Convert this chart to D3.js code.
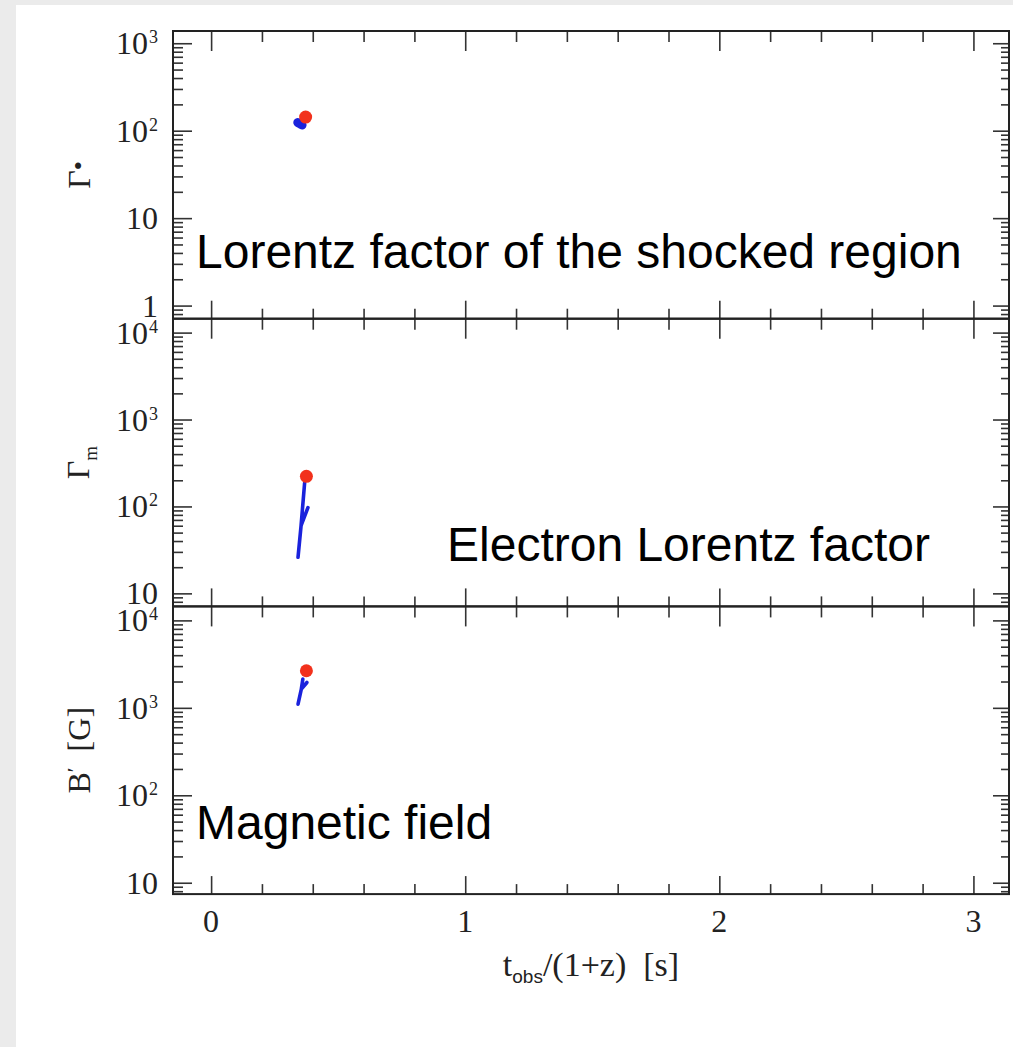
<!DOCTYPE html>
<html>
<head>
<meta charset="utf-8">
<script src="https://cdn.jsdelivr.net/npm/d3@7"></script>
<style>
  body { margin: 0; background: #ebebeb; }
  svg { display: block; }
  .serif { font-family: "Liberation Serif", "DejaVu Serif", serif; fill: #222; }
  .note { font-family: "Liberation Sans", Arial, sans-serif; fill: #000; }
</style>
</head>
<body>
<div id="chart"></div>
<script>
/*
    Chart data
*/
var timeMajorTicks = [0, 1, 2, 3];
var timeMinorTicks = [0.2, 0.4, 0.6, 0.8, 1.2, 1.4, 1.6, 1.8, 2.2, 2.4, 2.6, 2.8];

// [t_obs/(1+z), value]
var lorentzBlue = [[0.341, 124], [0.352, 119], [0.358, 116]];
var lorentzRed = [[0.372, 143]];
var electronBlue = [[0.342, 26], [0.354, 60], [0.381, 97], [0.354, 60], [0.368, 187]];
var electronRed = [[0.375, 222]];
var fieldBlue = [[0.342, 1100], [0.355, 1640], [0.377, 1950], [0.355, 1640], [0.361, 2130]];
var fieldRed = [[0.375, 2655]];

var lorentzTicks = [1, 10, 100, 1000];
var electronTicks = [10, 100, 1000, 10000];
var fieldTicks = [10, 100, 1000, 10000];

var panelNotes = ["Lorentz factor of the shocked region", "Electron Lorentz factor", "Magnetic field"];

/*
    Layout
*/
var width = 1013, height = 1047;
var left = 173, right = 1009;
var panelTop = 31, panelHeight = 287.7;

var svg = d3.select("#chart").append("svg")
    .attr("width", width)
    .attr("height", height);

// white card on grey page
svg.append("rect")
    .attr("x", 16).attr("y", 5)
    .attr("width", width - 16).attr("height", height - 5)
    .attr("fill", "#fff");

var x = d3.scaleLinear().domain([-0.15, 3.14]).range([left, right]);

var panels = [
    { blue: lorentzBlue, red: lorentzRed, ticks: lorentzTicks, lo: -0.15, hi: 3.14,
      note: panelNotes[0], noteX: 196, noteY: 268 },
    { blue: electronBlue, red: electronRed, ticks: electronTicks, lo: 0.85, hi: 4.16,
      note: panelNotes[1], noteX: 447, noteY: 561 },
    { blue: fieldBlue, red: fieldRed, ticks: fieldTicks, lo: 0.87, hi: 4.16,
      note: panelNotes[2], noteX: 196, noteY: 839 }
];

function minorLogTicks(lo, hi) {
    var out = [];
    for (var n = Math.floor(lo); n <= Math.ceil(hi); n++) {
        for (var k = 2; k <= 9; k++) {
            var v = k * Math.pow(10, n);
            var l = Math.log10(v);
            if (l > lo && l < hi) out.push(v);
        }
    }
    return out;
}

function styleAxis(g) {
    g.select(".domain").remove();
    g.selectAll(".tick line").attr("stroke", "#333").attr("stroke-width", 1.6);
    g.selectAll(".tick text").remove();
}

panels.forEach(function (p, i) {
    var top = panelTop + i * panelHeight;
    var bottom = top + panelHeight;
    var y = d3.scaleLog()
        .domain([Math.pow(10, p.lo), Math.pow(10, p.hi)])
        .range([bottom, top]);

    var g = svg.append("g");
    var minor = minorLogTicks(p.lo, p.hi);

    // left / right ticks, pointing inward
    g.append("g").attr("transform", "translate(" + left + ",0)")
        .call(d3.axisLeft(y).tickValues(p.ticks).tickSize(-19)).call(styleAxis);
    g.append("g").attr("transform", "translate(" + left + ",0)")
        .call(d3.axisLeft(y).tickValues(minor).tickSize(-10)).call(styleAxis);
    g.append("g").attr("transform", "translate(" + right + ",0)")
        .call(d3.axisRight(y).tickValues(p.ticks).tickSize(-16)).call(styleAxis);
    g.append("g").attr("transform", "translate(" + right + ",0)")
        .call(d3.axisRight(y).tickValues(minor).tickSize(-8)).call(styleAxis);

    // top / bottom ticks
    g.append("g").attr("transform", "translate(0," + top + ")")
        .call(d3.axisTop(x).tickValues(timeMajorTicks).tickSize(-20)).call(styleAxis);
    g.append("g").attr("transform", "translate(0," + top + ")")
        .call(d3.axisTop(x).tickValues(timeMinorTicks).tickSize(-11)).call(styleAxis);
    g.append("g").attr("transform", "translate(0," + bottom + ")")
        .call(d3.axisBottom(x).tickValues(timeMajorTicks).tickSize(-18)).call(styleAxis);
    g.append("g").attr("transform", "translate(0," + bottom + ")")
        .call(d3.axisBottom(x).tickValues(timeMinorTicks).tickSize(-10)).call(styleAxis);

    // y tick labels: 1, 10, 10^n
    p.ticks.forEach(function (v) {
        var e = Math.round(Math.log10(v));
        var t = g.append("text").attr("class", "serif")
            .attr("x", 158).attr("y", y(v) + 11)
            .attr("text-anchor", "end")
            .style("font-size", "32px");
        if (e <= 1) {
            t.text(String(v));
        } else {
            t.append("tspan").text("10");
            t.append("tspan").attr("dx", 1).attr("dy", -11).style("font-size", "18px").text(e);
        }
    });

    // frame
    g.append("rect")
        .attr("x", left).attr("y", top)
        .attr("width", right - left).attr("height", panelHeight)
        .attr("fill", "none").attr("stroke", "#222").attr("stroke-width", 2);

    // data
    var line = d3.line()
        .x(function (d) { return x(d[0]); })
        .y(function (d) { return y(d[1]); });

    g.append("path")
        .datum(p.blue)
        .attr("d", line)
        .attr("fill", "none")
        .attr("stroke", "#1a22dc")
        .attr("stroke-width", i === 0 ? 9 : 3.6)
        .attr("stroke-linecap", "round")
        .attr("stroke-linejoin", "round");

    g.selectAll(".red").data(p.red).enter().append("circle")
        .attr("cx", function (d) { return x(d[0]); })
        .attr("cy", function (d) { return y(d[1]); })
        .attr("r", 6.5)
        .attr("fill", "#f2311c");

    // annotation
    g.append("text").attr("class", "note")
        .attr("x", p.noteX).attr("y", p.noteY)
        .style("font-size", "48px")
        .text(p.note);
});

// x tick labels
var bottomEdge = panelTop + 3 * panelHeight;
timeMajorTicks.forEach(function (v) {
    svg.append("text").attr("class", "serif")
        .attr("x", x(v)).attr("y", bottomEdge + 38)
        .attr("text-anchor", "middle")
        .style("font-size", "32px")
        .text(v);
});

// x title
var xt = svg.append("text").attr("class", "serif")
    .attr("x", (left + right) / 2).attr("y", 976)
    .attr("text-anchor", "middle")
    .style("font-size", "34px");
xt.append("tspan").text("t");
xt.append("tspan").attr("dy", 7).style("font-family", "Liberation Sans, Arial, sans-serif")
    .style("font-size", "19px").text("obs");
xt.append("tspan").attr("dy", -7).text("/(1+z)\u00a0\u00a0[s]");

// y titles (rotated)
function yTitle(cx, cy) {
    return svg.append("text").attr("class", "serif")
        .attr("transform", "translate(" + cx + "," + cy + ") rotate(-90)")
        .attr("text-anchor", "middle")
        .style("font-size", "32px");
}

var t1 = yTitle(90, panelTop + panelHeight / 2);
t1.append("tspan").text("\u0393");
t1.append("tspan").attr("dy", -3).style("font-size", "26px").text("\u2022");

var t2 = yTitle(89, panelTop + 1.5 * panelHeight);
t2.append("tspan").text("\u0393");
t2.append("tspan").attr("dy", 8).style("font-size", "19px").text("m");

var t3 = yTitle(90, panelTop + 2.5 * panelHeight);
t3.append("tspan").text("B");
t3.append("tspan").attr("dy", -8).style("font-size", "22px").text("\u2032");
t3.append("tspan").attr("dy", 8).text("\u00a0\u00a0[G]");
</script>
</body>
</html>
